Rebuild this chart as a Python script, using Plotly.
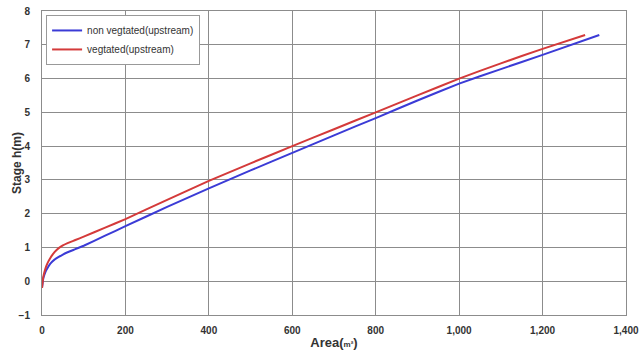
import plotly.graph_objects as go

# Non vegetated (upstream)
area_nv = [0, 3, 6, 10, 15, 20, 30, 40, 50, 60, 80, 100, 150, 200, 300, 400, 500, 600, 700, 800, 900, 1000, 1100, 1200, 1336]
stage_nv = [-0.2, 0.08, 0.2, 0.32, 0.43, 0.52, 0.64, 0.72, 0.79, 0.85, 0.95, 1.05, 1.34, 1.63, 2.2, 2.75, 3.28, 3.8, 4.32, 4.83, 5.35, 5.85, 6.28, 6.7, 7.29]

# Vegetated (upstream)
area_v = [0, 3, 6, 10, 15, 20, 30, 40, 50, 60, 80, 100, 150, 200, 300, 400, 500, 600, 700, 800, 900, 1000, 1100, 1200, 1302]
stage_v = [-0.2, 0.12, 0.28, 0.44, 0.58, 0.69, 0.86, 0.98, 1.06, 1.12, 1.22, 1.32, 1.58, 1.84, 2.41, 2.97, 3.49, 4.0, 4.5, 5.0, 5.5, 6.0, 6.45, 6.88, 7.29]

x_ticks = [0, 200, 400, 600, 800, 1000, 1200, 1400]
y_ticks = [-1, 0, 1, 2, 3, 4, 5, 6, 7, 8]

font_family = "Liberation Sans, Arial, sans-serif"
grid_color = "#8c8c8c"
label_color = "#333333"

fig = go.Figure()
fig.add_trace(go.Scatter(x=area_nv, y=stage_nv, mode="lines", name="non vegtated(upstream)",
                         line=dict(color="#3b3bd6", width=2, shape="spline", smoothing=0.3)))
fig.add_trace(go.Scatter(x=area_v, y=stage_v, mode="lines", name="vegtated(upstream)",
                         line=dict(color="#d43a3a", width=2, shape="spline", smoothing=0.3)))

fig.update_layout(
    width=639, height=354,
    margin=dict(l=42, r=13, t=11, b=39, autoexpand=False),
    paper_bgcolor="white", plot_bgcolor="white",
    font=dict(family=font_family, color=label_color),
    showlegend=True,
    legend=dict(x=0.007, y=0.987, xanchor="left", yanchor="top",
                bgcolor="white", bordercolor="#999999", borderwidth=1,
                font=dict(size=10, family=font_family, color="#333333"),
                itemwidth=30, tracegroupgap=0),
    xaxis=dict(range=[0, 1400], tickvals=x_ticks, tickformat=",",
               showgrid=True, gridcolor=grid_color, gridwidth=1,
               showline=True, linecolor=grid_color, mirror=True,
               zeroline=False, ticks="", ticklabelstandoff=6,
               automargin=False, ticklabeloverflow="allow",
               tickfont=dict(size=10, family=font_family, color=label_color, weight="bold"),
               title=dict(text="Area(<span style='font-size:8px'>m²</span>)", standoff=2,
                          font=dict(size=13, family=font_family, color=label_color, weight="bold"))),
    yaxis=dict(range=[-1, 8], tickvals=y_ticks,
               showgrid=True, gridcolor=grid_color, gridwidth=1,
               showline=True, linecolor=grid_color, mirror=True,
               zeroline=False, ticks="", ticklabelstandoff=9,
               automargin=False, ticklabeloverflow="allow",
               tickfont=dict(size=10, family=font_family, color=label_color, weight="bold")),
    annotations=[dict(text="<b>Stage h(m)</b>", xref="paper", yref="paper",
                      x=-25 / 584, y=0.5, xanchor="center", yanchor="middle",
                      textangle=-90, showarrow=False,
                      font=dict(size=12, family=font_family, color=label_color))],
)

fig.write_html("out.html")
